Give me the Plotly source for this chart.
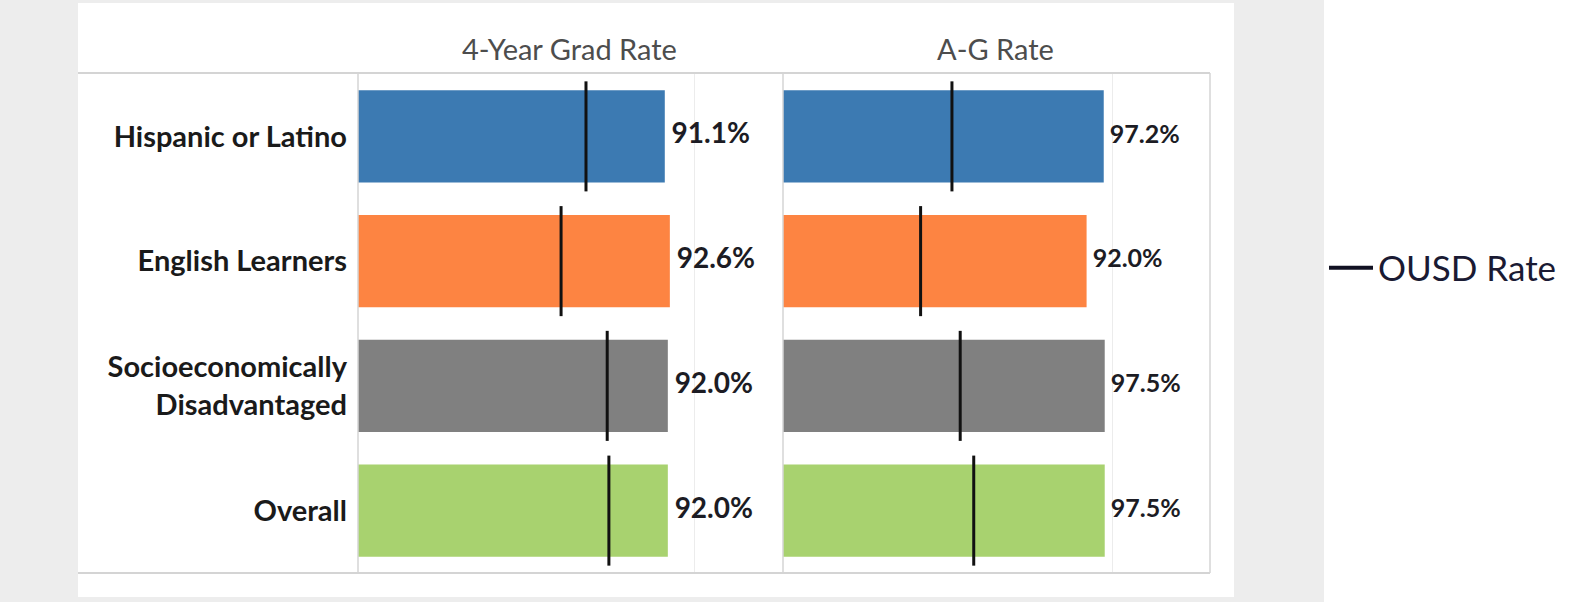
import plotly.graph_objects as go

categories = ["Hispanic or Latino", "English Learners", "Socioeconomically<br>Disadvantaged", "Overall"]
grad_rate = [91.1, 92.6, 92.0, 92.0]
grad_ousd = [67.7, 60.3, 74.0, 74.5]
ag_rate = [97.2, 92.0, 97.5, 97.5]
ag_ousd = [51.2, 41.7, 53.7, 57.8]
colors = ["#3c7ab2", "#fd8442", "#808080", "#a8d26f"]
panel_titles = ["4-Year Grad Rate", "A-G Rate"]

W, H = 1570, 602
FONT = "Lato"

def px(x):
    return x / W

def py(y):
    return 1 - y / H

fig = go.Figure()

for vals, ousd, xa, fsize in [(grad_rate, grad_ousd, "x", 28), (ag_rate, ag_ousd, "x2", 25)]:
    fig.add_trace(go.Bar(
        x=vals, y=categories, orientation="h", xaxis=xa, yaxis="y",
        marker=dict(color=colors, line=dict(width=0)), width=0.74,
        showlegend=False, hoverinfo="x+y",
    ))
    fig.add_trace(go.Scatter(
        x=vals, y=categories, xaxis=xa, yaxis="y", mode="text",
        text=[f" {v:.1f}%" for v in vals], textposition="middle right",
        textfont=dict(family=FONT, size=fsize, color="#1c1c24", weight="bold"),
        showlegend=False, hoverinfo="skip", cliponaxis=False,
    ))
    fig.add_trace(go.Scatter(
        x=ousd, y=categories, xaxis=xa, yaxis="y", mode="markers",
        marker=dict(symbol="line-ns", size=78.6, line=dict(color="#111111", width=3)),
        showlegend=False, name="OUSD Rate", cliponaxis=False,
    ))

# legend entry
fig.add_trace(go.Scatter(
    x=[None], y=[None], mode="lines", name="OUSD Rate",
    line=dict(color="#111122", width=4), xaxis="x", yaxis="y",
))

grid = "#d4d4d4"
shapes = [
    dict(type="rect", xref="paper", yref="paper", x0=0, x1=px(1324), y0=0, y1=1,
         fillcolor="#ededed", line=dict(width=0), layer="below"),
    dict(type="rect", xref="paper", yref="paper", x0=px(78), x1=px(1234), y0=py(597), y1=py(3),
         fillcolor="white", line=dict(width=0), layer="below"),
    dict(type="line", xref="paper", yref="paper", x0=px(78), x1=px(1210), y0=py(73), y1=py(73),
         line=dict(color=grid, width=2)),
    dict(type="line", xref="paper", yref="paper", x0=px(78), x1=px(1210), y0=py(573), y1=py(573),
         line=dict(color=grid, width=2)),
]
for xv in [358, 783, 1210]:
    shapes.append(dict(type="line", xref="paper", yref="paper", x0=px(xv), x1=px(xv),
                       y0=py(573), y1=py(73), line=dict(color=grid, width=1.5)))

annotations = [
    dict(text=panel_titles[0], xref="paper", yref="paper", x=px(569), y=py(29),
         showarrow=False, font=dict(family=FONT, size=29, color="#4d4d4d")),
    dict(text=panel_titles[1], xref="paper", yref="paper", x=px(995), y=py(29),
         showarrow=False, font=dict(family=FONT, size=29, color="#4d4d4d")),
]

xaxis_common = dict(tickvals=[100], showticklabels=False, showgrid=True, gridcolor="#ececec",
                    gridwidth=1, zeroline=False, showline=False, fixedrange=True, anchor="y")

fig.update_layout(
    width=W, height=H, margin=dict(l=0, r=0, t=0, b=0),
    paper_bgcolor="white", plot_bgcolor="rgba(0,0,0,0)",
    xaxis=dict(domain=[px(358), px(783)], range=[0, 126.2], **xaxis_common),
    xaxis2=dict(domain=[px(783), px(1210)], range=[0, 129.4], **xaxis_common),
    yaxis=dict(domain=[py(573), py(74)], categoryorder="array", categoryarray=categories,
               range=[3.5, -0.5], autorange=False, showgrid=False, zeroline=False, showline=False,
               ticks="", ticklabelstandoff=10, fixedrange=True,
               tickfont=dict(family=FONT, size=29, color="#1a1a1a", weight="bold")),
    shapes=shapes, annotations=annotations,
    showlegend=True,
    legend=dict(x=px(1324), y=py(268), xanchor="left", yanchor="middle", itemwidth=44,
                bgcolor="rgba(0,0,0,0)", font=dict(family=FONT, size=35, color="#1a1a33")),
)

fig.write_html("out.html", config={"displayModeBar": False},
               post_script="document.body.style.margin='0';")
